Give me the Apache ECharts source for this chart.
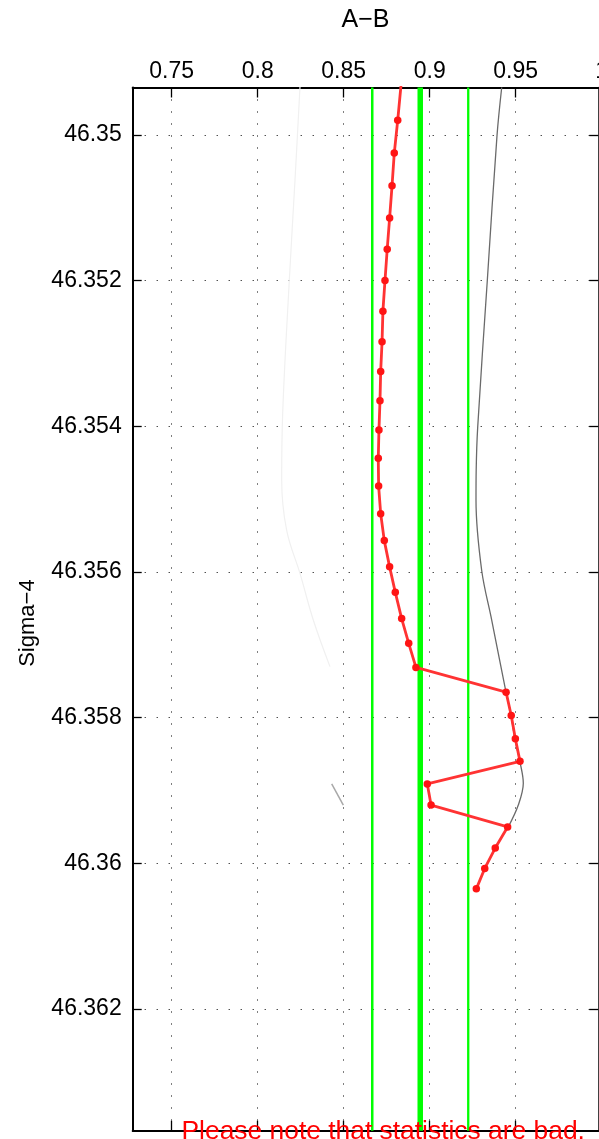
<!DOCTYPE html>
<html>
<head>
<meta charset="utf-8">
<script src="https://cdn.jsdelivr.net/npm/echarts@6/dist/echarts.min.js"></script>
<style>
html,body{margin:0;padding:0;background:#fff;}
#chart{width:599px;height:1139px;}
</style>
</head>
<body>
<div id="chart"></div>
<script>
// ---- data ----
var xTicks = [0.75, 0.8, 0.85, 0.9, 0.95, 1];
var yTicks = [46.35, 46.352, 46.354, 46.356, 46.358, 46.36, 46.362];
var xRange = [0.72733, 0.99802];
var yRange = [46.34935, 46.36367];

var redX = [0.8834, 0.8814, 0.8794, 0.8781, 0.8767, 0.8753, 0.8740, 0.8728, 0.8723, 0.8715, 0.8711, 0.8705, 0.8701, 0.8703, 0.8715, 0.8736, 0.8767, 0.8800, 0.8837, 0.8878, 0.8920, 0.9444, 0.9474, 0.9498, 0.9525, 0.8986, 0.9008, 0.9453, 0.9381, 0.9320, 0.9271];
var redY = [46.3493, 46.3498, 46.35025, 46.3507, 46.35114, 46.35157, 46.3520, 46.35242, 46.35284, 46.35325, 46.35365, 46.35405, 46.35444, 46.35482, 46.3552, 46.35557, 46.35593, 46.35628, 46.35664, 46.35698, 46.35731, 46.35765, 46.35797, 46.35829, 46.3586, 46.35891, 46.3592, 46.3595, 46.35979, 46.36007, 46.36035];

var darkX = [0.94186, 0.93913, 0.93349, 0.92791, 0.92703, 0.92692, 0.93023, 0.93605, 0.94378, 0.94727, 0.94960, 0.95250, 0.95442, 0.95151, 0.9457];
var darkY = [46.34935, 46.35001, 46.352, 46.35401, 46.3546, 46.35502, 46.35598, 46.35666, 46.35758, 46.35797, 46.3583, 46.35861, 46.3589, 46.3592, 46.3595];

var lightX = [0.82459, 0.82169, 0.81837, 0.81453, 0.81395, 0.81686, 0.82459, 0.83233, 0.84203];
var lightY = [46.34934, 46.35062, 46.352, 46.35382, 46.35474, 46.35543, 46.35602, 46.35666, 46.3573];

var shortX = [0.84302, 0.84977];
var shortY = [46.35891, 46.3592];

var greenX = [0.8666, 0.8945, 0.9224];

var xName = 'A\u2212B';
var yName = 'Sigma\u22124';
var note = 'Please note that statistics are bad.';

// ---- build ----
function zip(a, b) { return a.map(function (v, i) { return [v, b[i]]; }); }
function fmt(v) { return String(parseFloat(Number(v).toFixed(4))); }

var FONT = 'Liberation Sans';
var gridLine = { show: true, lineStyle: { color: '#000', width: 1, type: [1, 11] } };

var greenWidths = [2.5, 5.5, 2.3];
var greenSeries = greenX.map(function (gx, i) {
  return {
    type: 'line', xAxisIndex: 0, yAxisIndex: 0,
    data: [[gx, yRange[0]], [gx, yRange[1]]],
    symbol: 'none', silent: true, z: 3,
    lineStyle: { color: '#00ff00', width: greenWidths[i] }
  };
});

var tickStyle = { color: '#000', width: 1.3 };

var noteGraphic = {
  type: 'text', left: 181.5, top: 1118.4, silent: true, z: 100,
  style: { text: note, font: '26.4px "Liberation Sans"', fill: '#ff0000' }
};

var option = {
  animation: false,
  backgroundColor: '#fff',
  grid: { left: 132.7, top: 87.5, width: 465.6, height: 1043.2, show: false },
  xAxis: [
    {
      type: 'value', position: 'top', min: xRange[0], max: xRange[1],
      splitNumber: 5,
      name: xName, nameLocation: 'middle', nameGap: 55,
      nameTextStyle: { fontFamily: FONT, fontSize: 25, color: '#000' },
      axisLine: { show: true, onZero: false, lineStyle: { color: '#000', width: 2 } },
      axisTick: { show: true, inside: true, length: 10, customValues: xTicks, lineStyle: tickStyle },
      axisLabel: { show: true, margin: 4, fontFamily: FONT, fontSize: 23, color: '#000', customValues: xTicks, formatter: fmt },
      splitLine: gridLine
    },
    {
      type: 'value', position: 'bottom', min: xRange[0], max: xRange[1],
      splitNumber: 5,
      axisLine: { show: true, onZero: false, lineStyle: { color: '#000', width: 2 } },
      axisTick: { show: true, inside: true, length: 10, customValues: xTicks, lineStyle: tickStyle },
      axisLabel: { show: false },
      splitLine: { show: false }
    }
  ],
  yAxis: [
    {
      type: 'value', position: 'left', inverse: true, min: yRange[0], max: yRange[1],
      splitNumber: 7,
      name: yName, nameLocation: 'middle', nameGap: 94, nameRotate: 90,
      nameTextStyle: { fontFamily: FONT, fontSize: 22, color: '#000', padding: [0, 28, 0, 0] },
      axisLine: { show: true, onZero: false, lineStyle: { color: '#000', width: 2 } },
      axisTick: { show: true, inside: true, length: 9, customValues: yTicks, lineStyle: tickStyle },
      axisLabel: { show: true, margin: 11, fontFamily: FONT, fontSize: 23, color: '#000', customValues: yTicks, formatter: fmt },
      splitLine: gridLine
    },
    {
      type: 'value', position: 'right', inverse: true, min: yRange[0], max: yRange[1],
      splitNumber: 7,
      axisLine: { show: true, onZero: false, lineStyle: { color: '#000', width: 1.5 } },
      axisTick: { show: true, inside: true, length: 9, customValues: yTicks, lineStyle: tickStyle },
      axisLabel: { show: false },
      splitLine: { show: false }
    }
  ],
  series: [
    {
      type: 'line', xAxisIndex: 0, yAxisIndex: 0, data: zip(lightX, lightY),
      symbol: 'none', smooth: 0.4, z: 2, silent: true,
      lineStyle: { color: '#f0f0f0', width: 1.2 }
    },
    {
      type: 'line', xAxisIndex: 0, yAxisIndex: 0, data: zip(shortX, shortY),
      symbol: 'none', z: 2, silent: true,
      lineStyle: { color: '#a8a8a8', width: 1.5 }
    },
    {
      type: 'line', xAxisIndex: 0, yAxisIndex: 0, data: zip(darkX, darkY),
      symbol: 'none', smooth: 0.35, z: 2, silent: true,
      lineStyle: { color: '#6a6a6a', width: 1.3 }
    }
  ].concat(greenSeries).concat([
    {
      type: 'line', xAxisIndex: 0, yAxisIndex: 0, data: zip(redX, redY),
      symbol: 'circle', symbolSize: 7.5, showSymbol: true, clip: true, z: 5,
      lineStyle: { color: '#ff3333', width: 2.8 },
      itemStyle: { color: '#ff1414' }
    }
  ]),
  graphic: [noteGraphic]
};

var chart = echarts.init(document.getElementById('chart'), null, { renderer: 'canvas' });
chart.setOption(option);

// tick label beyond the visible right edge (partially shown, as in the reference)
var lastTick = xTicks[xTicks.length - 1];
if (lastTick > xRange[1]) {
  var px = chart.convertToPixel({ xAxisIndex: 0 }, lastTick);
  chart.setOption({
    graphic: [
      noteGraphic,
      {
        type: 'text', x: px, y: 83.5, silent: true, z: 100,
        style: { text: fmt(lastTick), font: '23px "Liberation Sans"', fill: '#000', align: 'center', verticalAlign: 'bottom' }
      }
    ]
  });
}
</script>
</body>
</html>
